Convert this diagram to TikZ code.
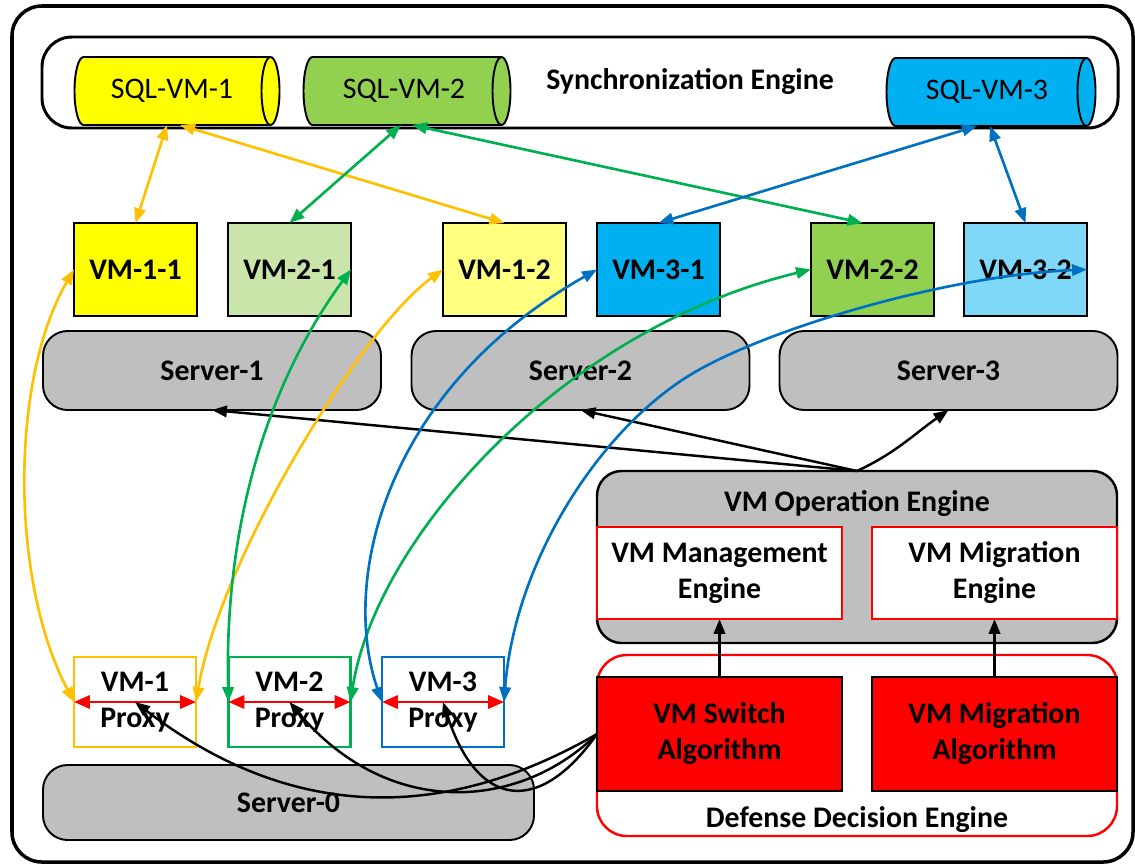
\documentclass[tikz,border=0pt]{standalone}
\usepackage{fontspec}
\setmainfont{Carlito}
\usetikzlibrary{arrows.meta}
\newdimen\pxu
\pxu=0.02cm
\definecolor{cGray}{HTML}{BFBFBF}
\definecolor{cYel}{HTML}{FFFF00}
\definecolor{cYelL}{HTML}{FFFF80}
\definecolor{cGrn}{HTML}{92D050}
\definecolor{cGrnL}{HTML}{C9E5A9}
\definecolor{cBlu}{HTML}{00B0F0}
\definecolor{cBluL}{HTML}{80D8F8}
\definecolor{lOra}{HTML}{FFC000}
\definecolor{lGrn}{HTML}{00B050}
\definecolor{lBlu}{HTML}{0070C0}
% #1 cx, #2 cy, #3 half width, #4 half height, #5 colour (pixel units)
\newcommand\sqlcyl[5]{%
  \filldraw[fill=#5,line width=1.1pt] (#1-#3+9,#2+#4) -- (#1+#3-9,#2+#4)
    arc[start angle=90,end angle=-90,x radius=9*\pxu,y radius=#4*\pxu]
    -- (#1-#3+9,#2-#4)
    arc[start angle=270,end angle=90,x radius=9*\pxu,y radius=#4*\pxu] -- cycle;
  \draw[line width=1.1pt] (#1+#3-9,#2+#4)
    arc[start angle=90,end angle=270,x radius=9*\pxu,y radius=#4*\pxu];}
\begin{document}
\begin{tikzpicture}[x=0.02cm,y=0.02cm,
  every node/.style={inner sep=0pt,outer sep=0pt},
  lbl/.style={font=\fontsize{17}{20.5}\selectfont\bfseries,align=center},
  sqllbl/.style={font=\fontsize{17}{20}\selectfont,minimum width=205*\pxu,minimum height=68*\pxu},
  vmbox/.style={draw,line width=1.1pt,minimum width=123*\pxu,minimum height=93*\pxu,lbl},
  srvbox/.style={draw,line width=1.1pt,fill=cGray,rounded corners=14pt,minimum width=338*\pxu,minimum height=79*\pxu,lbl},
  proxybox/.style={draw,line width=1.6pt,fill=white,minimum width=122*\pxu,minimum height=90*\pxu,lbl},
  engbox/.style={draw=red,fill=white,line width=0.8pt,minimum width=245*\pxu,minimum height=92*\pxu,lbl},
  algbox/.style={draw,fill=red,line width=0.9pt,minimum width=245*\pxu,minimum height=114*\pxu,lbl},
  link/.style={line width=1.5pt,{Triangle[length=8.5pt,width=6.5pt]}-{Triangle[length=8.5pt,width=6.5pt]}},
  ctl/.style={line width=1.4pt,-{Triangle[length=8.5pt,width=6.5pt]}},
  redarr/.style={red,line width=1.5pt,{Triangle[length=9pt,width=7.5pt]}-{Triangle[length=9pt,width=7.5pt]}}
]
\path[use as bounding box] (0,0) rectangle (1135,-866);
\fill[white] (0,0) rectangle (1135,-866);
\draw[line width=2pt,rounded corners=17pt] (12,-6) rectangle (1133,-862);

% synchronization engine
\node[draw,line width=1.7pt,rounded corners=17pt,minimum width=1076*\pxu,minimum height=91*\pxu] (sync) at (580,-82.5) {};
\sqlcyl{177}{-91}{102.5}{34}{cYel}
\sqlcyl{407}{-91}{103.5}{34}{cGrn}
\sqlcyl{991}{-92}{104.5}{34}{cBlu}
\node[sqllbl] (sql1) at (172,-91) {SQL-VM-1};
\node[sqllbl] (sql2) at (404,-91) {SQL-VM-2};
\node[sqllbl] (sql3) at (987,-92) {SQL-VM-3};
\node[lbl] (synclbl) at (690,-82) {Synchronization Engine};

% VMs
\node[vmbox,fill=cYel]  (vm11) at (135.5,-269.5) {VM-1-1};
\node[vmbox,fill=cGrnL] (vm21) at (289.5,-269.5) {VM-2-1};
\node[vmbox,fill=cYelL] (vm12) at (504.5,-269.5) {VM-1-2};
\node[vmbox,fill=cBlu]  (vm31) at (658.5,-269.5) {VM-3-1};
\node[vmbox,fill=cGrn]  (vm22) at (872.5,-269.5) {VM-2-2};
\node[vmbox,fill=cBluL] (vm32) at (1025.5,-269.5) {VM-3-2};

% servers
\node[srvbox] (srv1) at (212,-370.5) {Server-1};
\node[srvbox] (srv2) at (580.5,-370.5) {Server-2};
\node[srvbox] (srv3) at (948.5,-370.5) {Server-3};

% VM operation engine
\node[draw,fill=cGray,line width=1.4pt,rounded corners=14pt,minimum width=520*\pxu,minimum height=172*\pxu] (ope) at (857,-557) {};
\node[lbl] (opelbl) at (857,-504) {VM Operation Engine};
\node[engbox] (mgmt) at (719.5,-573) {VM Management\\Engine};
\node[engbox] (mge) at (994.5,-573) {VM Migration\\Engine};

% defense decision engine
\node[draw=red,fill=white,line width=1.4pt,rounded corners=17pt,minimum width=520*\pxu,minimum height=181*\pxu] (dde) at (857,-745.5) {};
\node[lbl] (ddelbl) at (857,-820) {Defense Decision Engine};
\node[algbox] (swa) at (719.5,-734) {VM Switch\\Algorithm};
\node[algbox] (mga) at (994.5,-734) {VM Migration\\Algorithm};

% proxies and server-0
\node[srvbox,minimum width=491*\pxu,minimum height=75*\pxu] (srv0) at (288.5,-802.5) {Server-0};
\node[proxybox,draw=lOra] (p1) at (135,-702) {VM-1\\Proxy};
\node[proxybox,draw=lGrn] (p2) at (289.5,-702) {VM-2\\Proxy};
\node[proxybox,draw=lBlu] (p3) at (443,-702) {VM-3\\Proxy};

% engine arrows
\draw[ctl] (swa.north) -- (mgmt.south);
\draw[ctl] (mga.north) -- (mge.south);
\draw[ctl] (ope.north) -- (srv1.south);
\draw[ctl] (ope.north) -- (srv2.south);
\draw[ctl] (ope.north) to[out=25,in=215] (srv3.south);

% database links
\draw[link,lOra] ([xshift=-5*\pxu]sql1.south) -- (vm11.north);
\draw[link,lOra] ([xshift=8*\pxu]sql1.south) -- (vm12.north);
\draw[link,lGrn] ([xshift=-3*\pxu]sql2.south) -- (vm21.north);
\draw[link,lGrn] ([xshift=8*\pxu]sql2.south) -- ([xshift=-10*\pxu]vm22.north);
\draw[link,lBlu] ([xshift=-10*\pxu]sql3.south) -- (vm31.north);
\draw[link,lBlu] ([xshift=3*\pxu]sql3.south) -- (vm32.north);

% proxy links
\draw[link,lOra] (vm11.west) .. controls (10,-380) and (10,-580) .. (p1.west);
\draw[link,lOra] (vm12.west) .. controls (360,-330) and (220,-560) .. (p1.east);
\draw[link,lGrn] (vm21.east) .. controls (270,-380) and (224,-520) .. (p2.west);
\draw[link,lGrn] (vm22.west) .. controls (560,-330) and (375,-540) .. (p2.east);
\draw[link,lBlu] (vm31.west) .. controls (385,-390) and (340,-580) .. (p3.west);
\coordinate (bmid) at (690,-375);
\draw[link,lBlu] (p3.east) .. controls (515,-560) and (600,-430) .. (bmid)
  .. controls (766.8,-328.1) and (950,-275) .. (vm32.east);

% proxy internal arrows
\draw[redarr] (p1.west) -- (p1.east);
\draw[redarr] (p2.west) -- (p2.east);
\draw[redarr] (p3.west) -- (p3.east);

% switch algorithm to proxies
\draw[ctl] (swa.west) .. controls (413,-840) and (263,-800) .. (p1.center);
\draw[ctl] (swa.west) .. controls (520,-810) and (389,-820) .. (p2.center);
\draw[ctl] (swa.west) .. controls (540,-815) and (478,-810) .. (p3.center);
\end{tikzpicture}
\end{document}
